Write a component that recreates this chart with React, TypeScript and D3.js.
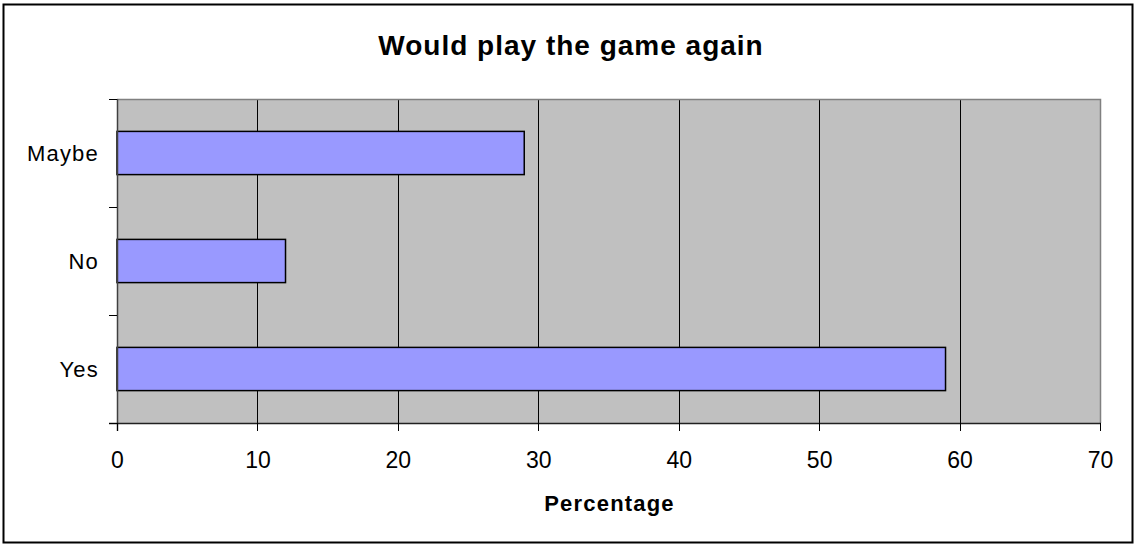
import React, { useEffect, useRef } from 'react';
import * as d3 from 'd3';

const categories = ['Maybe', 'No', 'Yes'];
const percentages = [29, 12, 59];
const xTicks = [0, 10, 20, 30, 40, 50, 60, 70];
const chartTitle = 'Would play the game again';
const xAxisTitle = 'Percentage';

const App: React.FC = () => {
  const svgRef = useRef<SVGSVGElement>(null);

  useEffect(() => {
    document.body.style.margin = '0';
    if (!svgRef.current) return;

    const width = 1134;
    const height = 544;
    const plot = { left: 117, right: 1100, top: 99, bottom: 423 };
    const font = "'Liberation Sans', Arial, sans-serif";

    const svg = d3.select(svgRef.current);
    svg.selectAll('*').remove();

    svg.append('rect')
      .attr('x', 0).attr('y', 0)
      .attr('width', width).attr('height', height)
      .attr('fill', '#fff');

    // outer chart border
    svg.append('rect')
      .attr('x', 3.5).attr('y', 4.5)
      .attr('width', 1129).attr('height', 538)
      .attr('fill', 'none')
      .attr('stroke', '#000')
      .attr('stroke-width', 2);

    const x = d3.scaleLinear().domain([0, 70]).range([plot.left, plot.right]);
    const y = d3.scaleBand<string>().domain(categories).range([plot.top, plot.bottom]);

    // plot area
    svg.append('rect')
      .attr('x', plot.left).attr('y', plot.top)
      .attr('width', plot.right - plot.left)
      .attr('height', plot.bottom - plot.top)
      .attr('fill', '#c0c0c0');

    // gridlines
    svg.append('g')
      .selectAll('line')
      .data(xTicks.slice(1, -1))
      .enter().append('line')
      .attr('x1', d => Math.round(x(d)) + 0.5)
      .attr('x2', d => Math.round(x(d)) + 0.5)
      .attr('y1', plot.top)
      .attr('y2', plot.bottom)
      .attr('stroke', '#000')
      .attr('stroke-width', 1);

    // top and right border of plot area
    svg.append('path')
      .attr('d', `M${plot.left},${plot.top + 0.5}H${plot.right + 0.5}V${plot.bottom}`)
      .attr('fill', 'none')
      .attr('stroke', '#808080')
      .attr('stroke-width', 1.5);

    // bars
    const barH = y.bandwidth() / 2.5;
    svg.append('g')
      .selectAll('rect')
      .data(categories)
      .enter().append('rect')
      .attr('x', x(0))
      .attr('y', d => (y(d) as number) + (y.bandwidth() - barH) / 2)
      .attr('width', (d, i) => x(percentages[i]) - x(0))
      .attr('height', barH)
      .attr('fill', '#9999ff')
      .attr('stroke', '#000')
      .attr('stroke-width', 1.5);

    // axes lines
    svg.append('line')
      .attr('x1', plot.left + 0.5).attr('x2', plot.left + 0.5)
      .attr('y1', plot.top).attr('y2', plot.bottom + 8)
      .attr('stroke', '#404040').attr('stroke-width', 1.5);
    svg.append('line')
      .attr('x1', plot.left - 8).attr('x2', plot.right + 1)
      .attr('y1', plot.bottom + 0.5).attr('y2', plot.bottom + 0.5)
      .attr('stroke', '#202020').attr('stroke-width', 1.5);

    // y ticks at category boundaries
    const bounds = [...categories.map(c => y(c) as number), plot.bottom];
    svg.append('g')
      .selectAll('line')
      .data(bounds)
      .enter().append('line')
      .attr('x1', plot.left - 8).attr('x2', plot.left)
      .attr('y1', d => Math.round(d) + 0.5)
      .attr('y2', d => Math.round(d) + 0.5)
      .attr('stroke', '#000');

    // x ticks
    svg.append('g')
      .selectAll('line')
      .data(xTicks)
      .enter().append('line')
      .attr('x1', d => Math.round(x(d)) + 0.5)
      .attr('x2', d => Math.round(x(d)) + 0.5)
      .attr('y1', plot.bottom)
      .attr('y2', plot.bottom + 8)
      .attr('stroke', '#000');

    // x tick labels
    svg.append('g')
      .selectAll('text')
      .data(xTicks)
      .enter().append('text')
      .attr('x', d => x(d) + 0.5)
      .attr('y', 468)
      .attr('text-anchor', 'middle')
      .attr('font-family', font)
      .attr('font-size', 23)
      .attr('fill', '#000')
      .text(d => d);

    // y labels
    svg.append('g')
      .selectAll('text')
      .data(categories)
      .enter().append('text')
      .attr('x', 99)
      .attr('y', d => (y(d) as number) + y.bandwidth() / 2 + 8)
      .attr('text-anchor', 'end')
      .attr('font-family', font)
      .attr('font-size', 22)
      .attr('letter-spacing', 1.2)
      .attr('fill', '#000')
      .text(d => d);

    svg.append('text')
      .attr('x', (plot.left + plot.right) / 2 + 1)
      .attr('y', 511)
      .attr('text-anchor', 'middle')
      .attr('font-family', font)
      .attr('font-size', 22)
      .attr('font-weight', 'bold')
      .attr('letter-spacing', 1.2)
      .text(xAxisTitle);

    svg.append('text')
      .attr('x', 571)
      .attr('y', 55)
      .attr('text-anchor', 'middle')
      .attr('font-family', font)
      .attr('font-size', 28)
      .attr('font-weight', 'bold')
      .attr('letter-spacing', 1)
      .text(chartTitle);
  }, []);

  return <svg ref={svgRef} width={1134} height={544} style={{ display: 'block' }} />;
};

export default App;
